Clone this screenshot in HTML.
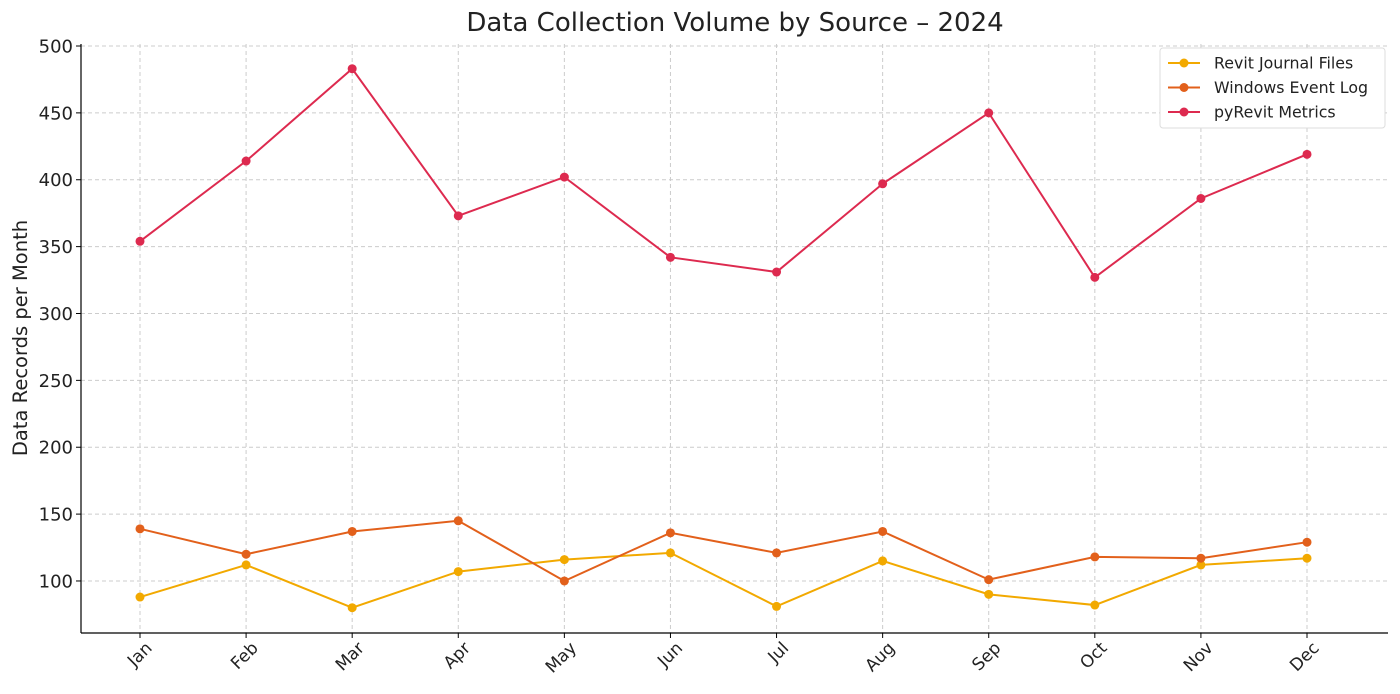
<!DOCTYPE html>
<html><head><meta charset="utf-8"><style>
body{margin:0;background:#fff;}
svg{display:block;font-family:"DejaVu Sans","Liberation Sans",sans-serif;}
</style></head><body>
<svg id="chart" width="1400" height="694"></svg>
<script>
const months=["Jan","Feb","Mar","Apr","May","Jun","Jul","Aug","Sep","Oct","Nov","Dec"];
const revitJournal=[88,112,80,107,116,121,81,115,90,82,112,117];
const windowsEvent=[139,120,137,145,100,136,121,137,101,118,117,129];
const pyRevit=[354,414,483,373,402,342,331,397,450,327,386,419];
const yTicks=[100,150,200,250,300,350,400,450,500];
const seriesNames=["Revit Journal Files","Windows Event Log","pyRevit Metrics"];
const NS="http://www.w3.org/2000/svg";
const svg=document.getElementById('chart');
const L=81,R=1388,T=44,B=633,yMin=61.1,yMax=501.5;
const x=i=>140+i*(1307-140)/11;
const y=v=>B-(v-yMin)/(yMax-yMin)*(B-T);
function el(t,a,p){const e=document.createElementNS(NS,t);for(const k in a)e.setAttribute(k,a[k]);(p||svg).appendChild(e);return e;}
yTicks.forEach(v=>{
 const g=el('line',{x1:L,x2:R,y1:y(v),y2:y(v),stroke:'#ccc','stroke-dasharray':'4,3','stroke-width':1});
 
 
 el('line',{x1:L-5,x2:L,y1:y(v),y2:y(v),stroke:'#000'});
 const t=el('text',{x:L-8,y:y(v)+6.5,'text-anchor':'end','font-size':18,fill:'#222'});t.textContent=v;
 
 
});
months.forEach((m,i)=>{
 const g=el('line',{x1:x(i),x2:x(i),y1:T,y2:B,stroke:'#ccc','stroke-dasharray':'4,3'});
 
 
 el('line',{x1:x(i),x2:x(i),y1:B,y2:B+5,stroke:'#000'});
 const ax=x(i)+13,ay=B+16;
 const t=el('text',{x:ax,y:ay,'text-anchor':'end','font-size':17,fill:'#222',transform:`rotate(-45 ${ax} ${ay})`});t.textContent=m;
 
 
});
el('line',{x1:L,x2:L,y1:T,y2:B,stroke:'#000','stroke-width':1.2});
el('line',{x1:L,x2:R,y1:B,y2:B,stroke:'#000','stroke-width':1.2});
const title=el('text',{x:735,y:31,'text-anchor':'middle','font-size':26,fill:'#222'});title.textContent="Data Collection Volume by Source – 2024";


const yl=el('text',{x:27,y:338,'text-anchor':'middle','font-size':19.5,fill:'#222',transform:'rotate(-90 27 338)'});yl.textContent="Data Records per Month";


const colors=["#f2a900","#e2601b","#dd2a4f"];
[revitJournal,windowsEvent,pyRevit].forEach((d,s)=>{
 const p=el('polyline',{points:d.map((v,i)=>x(i)+','+y(v)).join(' '),fill:'none',stroke:colors[s],'stroke-width':2});
 
 
 d.forEach((v,i)=>{const c=el('circle',{cx:x(i),cy:y(v),r:4.5,fill:colors[s]});
 
 });
});
const lg=el('rect',{x:1160,y:48,width:225,height:80,fill:'#fff',stroke:'#ddd',rx:3});


seriesNames.forEach((n,s)=>{
 const yy=63+s*24.5;
 el('line',{x1:1168,x2:1200,y1:yy,y2:yy,stroke:colors[s],'stroke-width':2});
 el('circle',{cx:1184,cy:yy,r:4.5,fill:colors[s]});
 const t=el('text',{x:1214,y:yy+5.5,'font-size':15.8,fill:'#222'});t.textContent=n;
 
 
});
</script>
</body></html>
